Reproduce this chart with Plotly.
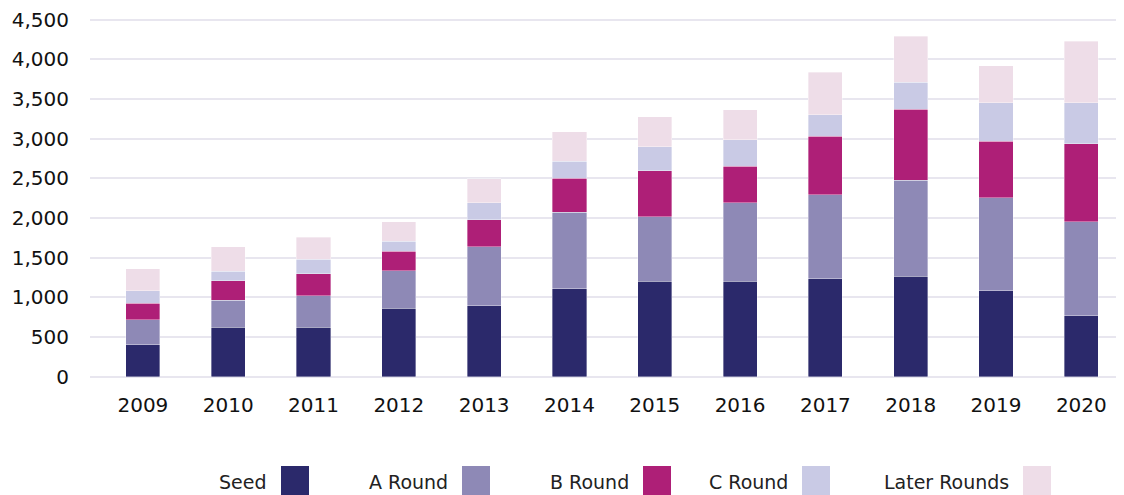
import plotly.graph_objects as go

years = ["2009", "2010", "2011", "2012", "2013", "2014", "2015", "2016", "2017", "2018", "2019", "2020"]
seed = [400, 620, 620, 865, 895, 1110, 1205, 1205, 1235, 1265, 1085, 770]
a_round = [315, 340, 400, 470, 745, 965, 810, 990, 1060, 1210, 1170, 1180]
b_round = [210, 250, 275, 245, 340, 425, 580, 460, 735, 895, 710, 985]
c_round = [155, 120, 185, 125, 215, 215, 305, 335, 275, 340, 490, 520]
later_rounds = [280, 310, 280, 245, 300, 375, 375, 375, 530, 585, 465, 775]

series_names = ["Seed", "A Round", "B Round", "C Round", "Later Rounds"]
series_values = [seed, a_round, b_round, c_round, later_rounds]
colors = ["#2b296b", "#8e89b6", "#ae1f77", "#c9cae5", "#eedde8"]

fig = go.Figure()
for name, vals, col in zip(series_names, series_values, colors):
    fig.add_trace(go.Bar(
        x=years, y=vals, name=name,
        marker=dict(color=col, line=dict(color="rgba(255,255,255,0.6)", width=0.6)),
        showlegend=False,
    ))

# The page places the figure 8px from the top-left corner (body margin)
OFF = 8
W, H = 1124 - OFF, 495 - OFF
ML, MR, MT, MB = 90 - OFF, 0, 15 - OFF, 116
PW = W - ML - MR
PH = H - MT - MB
plot_bottom = H - MB

# Custom legend: text followed by a swatch (as in the original); page pixels
legend_left_px = [281, 462, 643, 802, 1023]
sw = 28
for name, col, lx in zip(series_names, colors, legend_left_px):
    fx = lx - OFF
    x0 = (fx - ML) / PW
    x1 = (fx + sw - ML) / PW
    y0 = (plot_bottom - (496 - OFF)) / PH
    y1 = (plot_bottom - (466 - OFF)) / PH
    fig.add_shape(type="rect", xref="paper", yref="paper", x0=x0, x1=x1, y0=y0, y1=y1,
                  fillcolor=col, line=dict(width=0), layer="above")
    fig.add_annotation(xref="paper", yref="paper", x=(fx - 12 - ML) / PW,
                       y=(plot_bottom - (482 - OFF)) / PH, text=name, showarrow=False,
                       xanchor="right", yanchor="middle",
                       font=dict(family="DejaVu Sans", size=19, color="#222222"))

fig.update_layout(
    width=W, height=H,
    margin=dict(l=ML, r=MR, t=MT, b=MB),
    barmode="stack",
    bargap=0.6,
    plot_bgcolor="white",
    paper_bgcolor="white",
    font=dict(family="DejaVu Sans", size=20, color="#111111"),
    xaxis=dict(
        type="category",
        range=[-0.62, 11.5],
        showgrid=False,
        showline=False,
        ticks="outside", ticklen=8, tickcolor="rgba(0,0,0,0)",
        tickfont=dict(size=20, color="#111111"),
    ),
    yaxis=dict(
        range=[-30, 4560],
        tickvals=[0, 500, 1000, 1500, 2000, 2500, 3000, 3500, 4000, 4500],
        tickformat=",",
        showgrid=True, gridcolor="#e8e6ef", gridwidth=2,
        zeroline=True, zerolinecolor="#e8e6ef", zerolinewidth=2,
        showline=False,
        ticks="outside", ticklen=16, tickcolor="rgba(0,0,0,0)",
        ticklabeloverflow="allow",
        tickfont=dict(size=20, color="#111111"),
    ),
)

fig.write_html("out.html")
